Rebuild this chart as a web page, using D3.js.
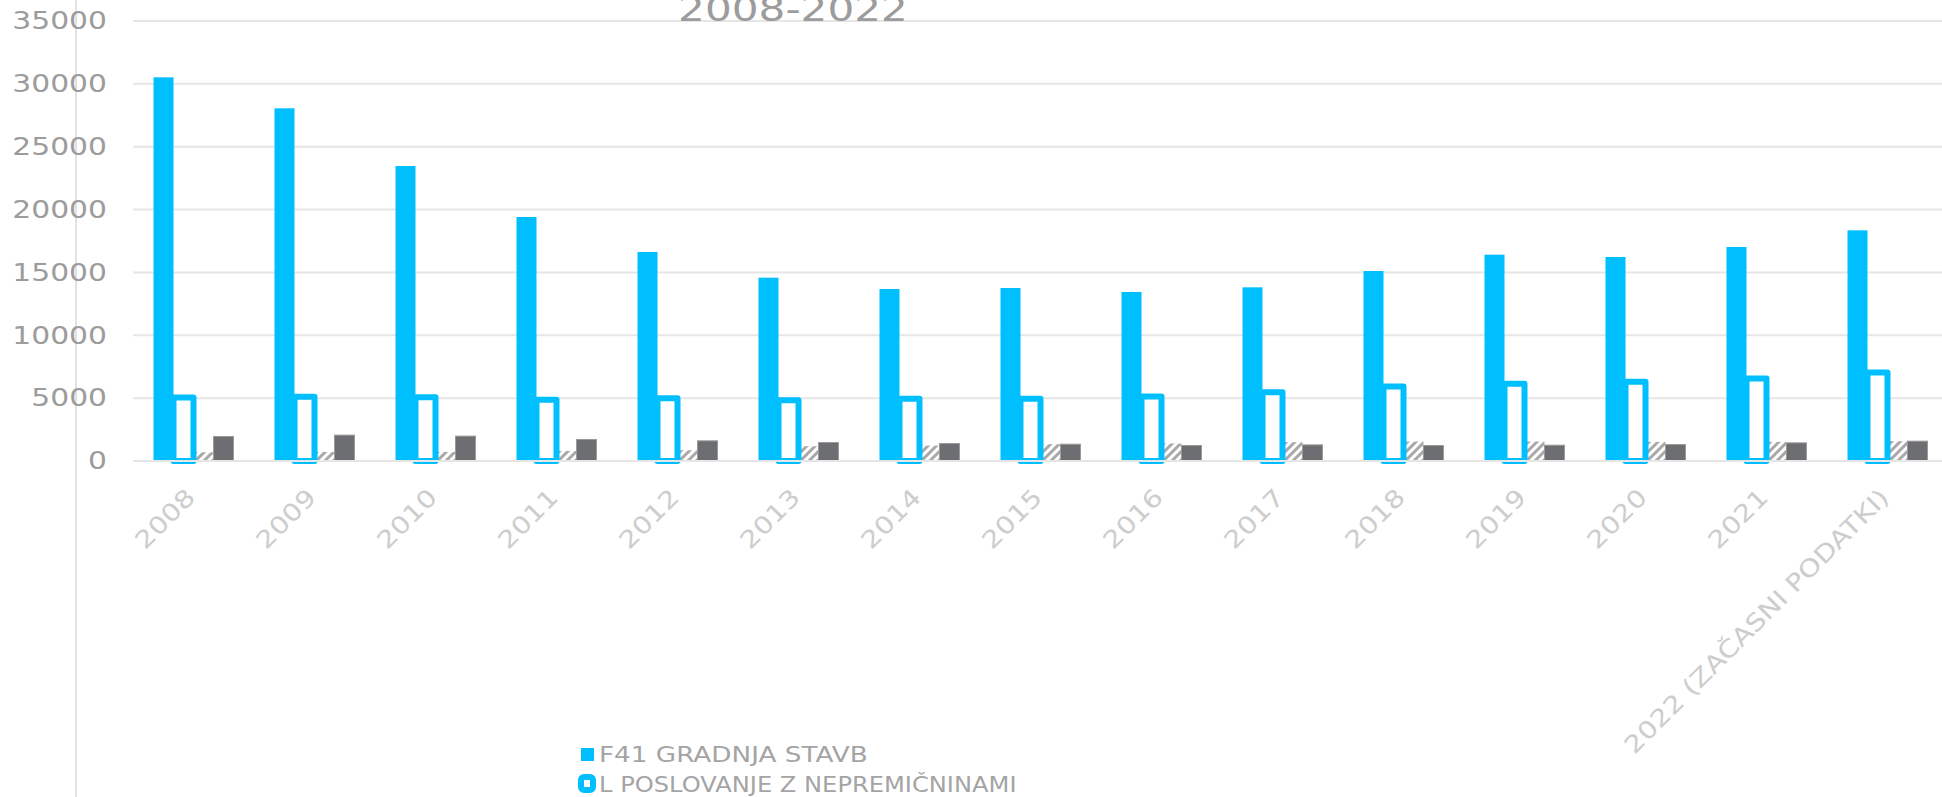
<!DOCTYPE html>
<html><head><meta charset="utf-8">
<script src="https://cdn.jsdelivr.net/npm/d3@7"></script>
<style>
body{margin:0;background:#fff;overflow:hidden}
svg{display:block}
text{font-family:'DejaVu Sans ExtraLight','DejaVu Sans',sans-serif}
</style></head>
<body><svg id="c" width="1942" height="797"></svg>
<script>
// ---- data ----
const categories = ["2008","2009","2010","2011","2012","2013","2014","2015","2016","2017","2018","2019","2020","2021","2022 (začasni podatki)"];
const seriesKeys = ["f41","l","s3","s4"];
const f41Values = [30520, 28055, 23466, 19410, 16625, 14582, 13680, 13760, 13443, 13815, 15114, 16410, 16227, 17023, 18350];
const lValues   = [5053, 5107, 5080, 4866, 4987, 4826, 4960, 4947, 5134, 5468, 5936, 6136, 6310, 6564, 7045];
const s3Values  = [695, 722, 722, 802, 856, 1176, 1230, 1337, 1390, 1497, 1550, 1550, 1524, 1524, 1578];
const s4Values  = [1952, 2059, 1979, 1711, 1604, 1471, 1390, 1337, 1230, 1283, 1230, 1257, 1310, 1444, 1578];
const yTicks = [0, 5000, 10000, 15000, 20000, 25000, 30000, 35000];
const titleText = "2008-2022";
const legendLabels = ["F41 GRADNJA STAVB", "L POSLOVANJE Z NEPREMIČNINAMI"];

const data = categories.map((c,i)=>({cat:c, f41:f41Values[i], l:lValues[i], s3:s3Values[i], s4:s4Values[i]}));

// ---- layout ----
const svg = d3.select("#c");
const BLUE = "#00bfff";
const x = d3.scaleBand().domain(categories).range([133, 1948]).padding(0);
const groupW = 80;
const x1 = d3.scaleBand().domain(seriesKeys).range([0, groupW]).padding(0);
const y = d3.scaleLinear().domain([0, 35000]).range([461, 21]);

function stretch(sel, k){
  sel.each(function(d,i){
    const kk = typeof k === "function" ? k(d,i) : k;
    const w = this.getComputedTextLength();
    this.setAttribute("textLength", w*kk);
    this.setAttribute("lengthAdjust","spacingAndGlyphs");
  });
}

// hatch pattern
const defs = svg.append("defs");
const pat = defs.append("pattern").attr("id","hatch").attr("patternUnits","userSpaceOnUse")
  .attr("width",6).attr("height",6).attr("patternTransform","rotate(45)");
pat.append("rect").attr("width",6).attr("height",6).attr("fill","#fff");
pat.append("rect").attr("width",3).attr("height",6).attr("fill","#a9a9a9");

// vertical axis line
svg.append("line").attr("x1",76).attr("x2",76).attr("y1",0).attr("y2",797)
  .attr("stroke","#d9d9d9").attr("stroke-width",1.5);

// gridlines
svg.append("g").selectAll("line").data(yTicks.filter(d=>d>0)).join("line")
  .attr("x1",133).attr("x2",1942).attr("y1",d=>y(d)).attr("y2",d=>y(d))
  .attr("stroke","#e6e6e6").attr("stroke-width",2);

// y labels
const yl = svg.append("g").selectAll("text").data(yTicks).join("text")
  .attr("x",107).attr("y",d=>y(d)).attr("dy","0.33em").attr("text-anchor","end")
  .attr("font-size",25).attr("fill","#9c9c9c").text(d=>d);
stretch(yl, 1.19);

// title
const tt = svg.append("text").attr("x",793).attr("y",21).attr("text-anchor","middle")
  .attr("font-size",34).attr("fill","#9c9c9c").text(titleText);
stretch(tt, 1.24);

// bars
const groups = svg.append("g").selectAll("g").data(data).join("g")
  .attr("transform", d=>`translate(${x(d.cat) + (x.bandwidth()-groupW)/2},0)`);

groups.append("rect").attr("x",x1("f41")).attr("width",x1.bandwidth())
  .attr("y",d=>y(d.f41)).attr("height",d=>y(0)-y(d.f41)).attr("fill",BLUE);
groups.append("rect").attr("x",x1("s3")).attr("width",x1.bandwidth())
  .attr("y",d=>y(d.s3)).attr("height",d=>y(0)-y(d.s3)).attr("fill","url(#hatch)");
groups.append("rect").attr("x",x1("s4")).attr("width",x1.bandwidth())
  .attr("y",d=>y(d.s4)).attr("height",d=>y(0)-y(d.s4)).attr("fill","#6d6e71")
  .attr("stroke","#9a9a9a").attr("stroke-width",1);
groups.append("rect").attr("x",x1("l")).attr("width",x1.bandwidth())
  .attr("y",d=>y(d.l)).attr("height",d=>y(0)-y(d.l)).attr("fill","#fff")
  .attr("stroke",BLUE).attr("stroke-width",6).attr("stroke-linejoin","round");

// baseline on top
svg.append("line").attr("x1",133).attr("x2",1942).attr("y1",y(0)).attr("y2",y(0))
  .attr("stroke","#e6e6e6").attr("stroke-width",2);

// x labels
const xl = svg.append("g").selectAll("text").data(categories).join("text")
  .attr("transform", d=>`translate(${x(d)+x.bandwidth()/2+3},499) rotate(-45)`)
  .attr("text-anchor","end").attr("font-size",24).attr("fill","#cdcdcd")
  .text(d=>d.toUpperCase());
stretch(xl, 1.19);

// legend
const lg = svg.append("g");
lg.append("rect").attr("x",581).attr("y",748).attr("width",13).attr("height",13).attr("fill",BLUE);
lg.append("rect").attr("x",581).attr("y",777).attr("width",12).attr("height",13).attr("rx",3)
  .attr("fill","#fff").attr("stroke",BLUE).attr("stroke-width",6);
const legendStretch = [1.25, 1.15];
const lt = lg.selectAll("text").data(legendLabels).join("text")
  .attr("x",599).attr("y",(d,i)=>i===0?762:792)
  .attr("font-size",21).attr("fill","#a4a4a4").text(d=>d);
stretch(lt, (d,i)=>legendStretch[i]);
</script>
</body></html>
